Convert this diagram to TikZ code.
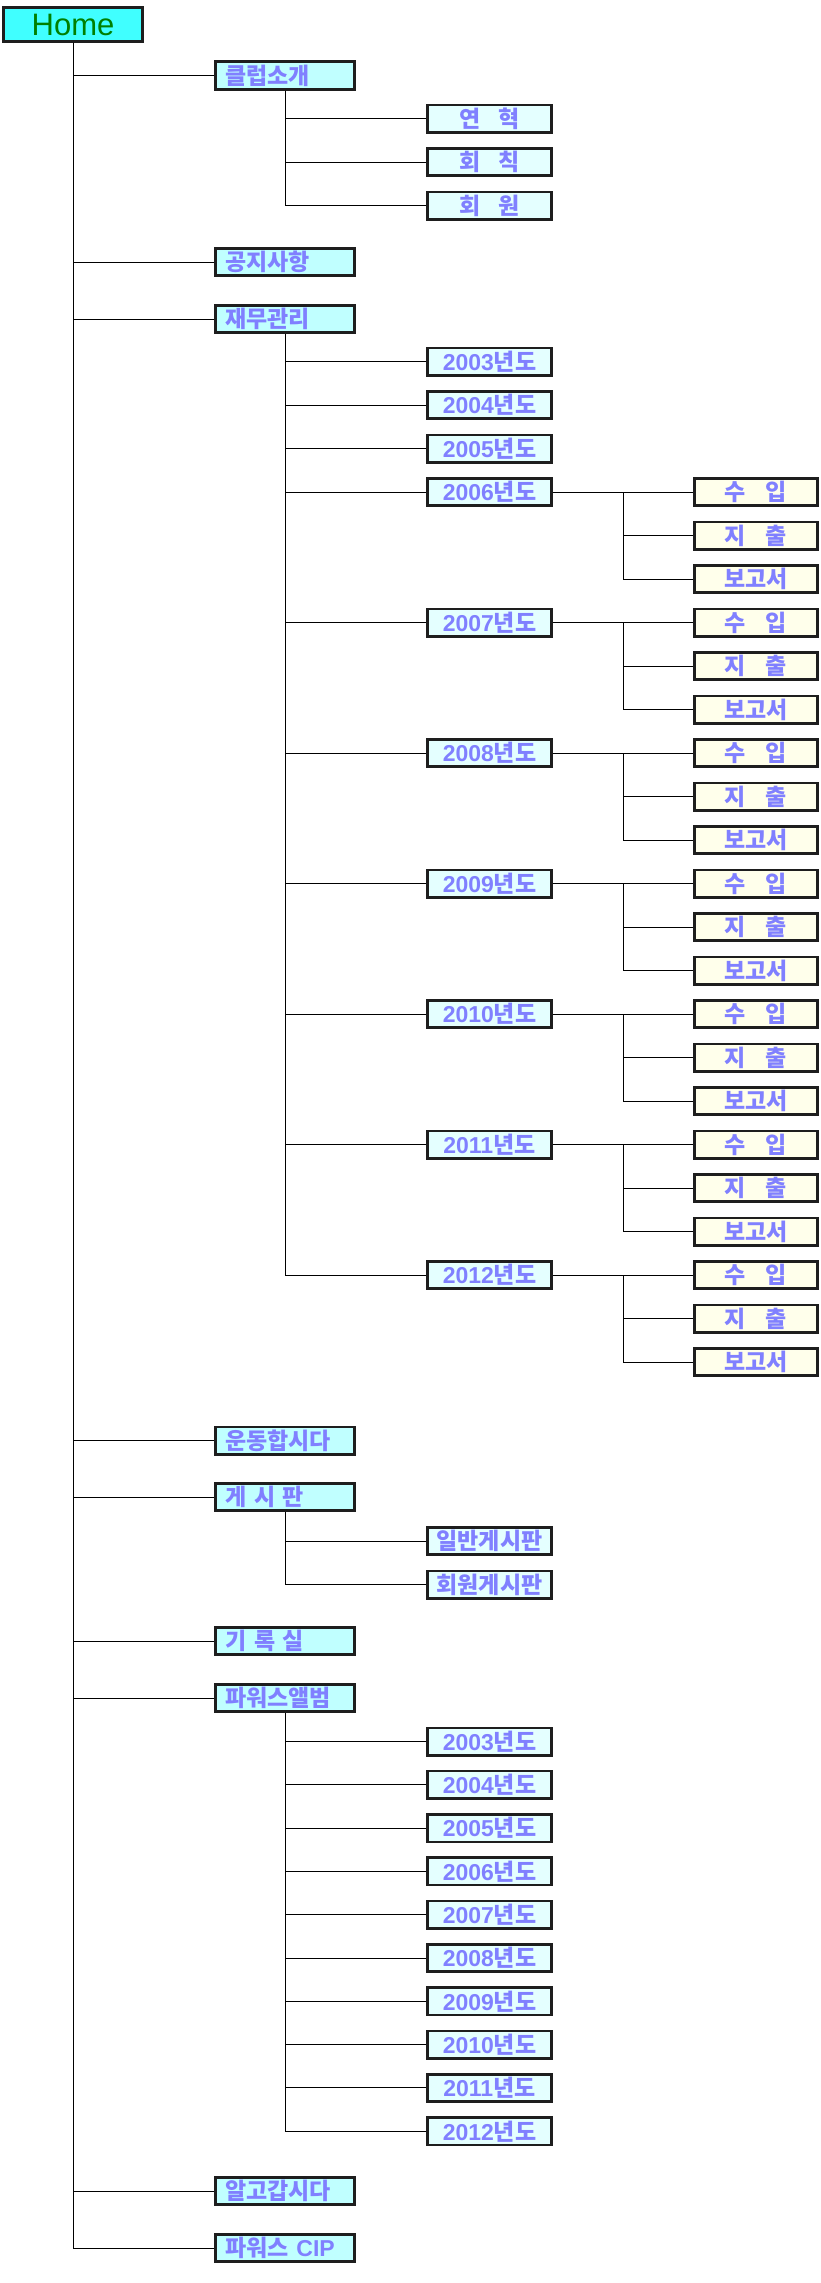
\documentclass[tikz,border=0pt]{standalone}
\usepackage{fontspec}
\setmainfont{Noto Sans CJK KR}
\newfontfamily\latinfont{Liberation Sans}
\newcommand\yrlab[1]{{\latinfont\bfseries #1}년도}
\definecolor{txt}{RGB}{128,128,255}
\definecolor{homefill}{RGB}{64,255,255}
\definecolor{homegreen}{RGB}{0,128,0}
\definecolor{lonefill}{RGB}{192,255,255}
\definecolor{ltwofill}{RGB}{228,255,255}
\definecolor{lthreefill}{RGB}{255,255,235}
\definecolor{edge}{RGB}{30,30,30}
\begin{document}
\begin{tikzpicture}[x=1pt,y=-1pt,
 box/.style={draw=edge, line width=2.6pt, minimum height=27.4pt, inner ysep=0pt, text=txt,
   font=\fontsize{23}{23}\selectfont\bfseries},
 lone/.style={box, fill=lonefill, text width=119.4pt, inner xsep=10pt, align=left},
 ltwo/.style={box, fill=ltwofill, minimum width=124.4pt, inner xsep=0pt},
 lthree/.style={box, fill=lthreefill, minimum width=123.4pt, inner xsep=0pt},
 homebox/.style={draw=edge, line width=2.6pt, fill=homefill, minimum width=139.4pt, minimum height=34.4pt,
   inner sep=0pt, text=homegreen, font=\latinfont\fontsize{31}{31}\selectfont},
 link/.style={draw=black, line width=1pt}]
\useasboundingbox (0,0) rectangle (820,2283);

% ---------- nodes ----------
\node[homebox] (home) at (73,24.5) {Home};

\node[lone] (club) at (285,75.5) {클럽소개};
\node[ltwo] (hist) at (489.5,118.5) {연\hspace{18pt}혁};
\node[ltwo] (rule) at (489.5,162) {회\hspace{18pt}칙};
\node[ltwo] (memb) at (489.5,205.5) {회\hspace{18pt}원};

\node[lone] (notice) at (285,262) {공지사항};
\node[lone] (fin) at (285,319) {재무관리};

\node[ltwo] (f2003) at (489.5,361.5) {\yrlab{2003}};
\node[ltwo] (f2004) at (489.5,405) {\yrlab{2004}};
\node[ltwo] (f2005) at (489.5,448.5) {\yrlab{2005}};

\foreach \yr [count=\k from 0] in {2006,2007,2008,2009,2010,2011,2012} {
  \pgfmathsetmacro\yy{492+130.5*\k}
  \node[ltwo] (f\yr) at (489.5,\yy) {\yrlab{\yr}};
  \node[lthree] (in\yr) at (756,\yy) {수\hspace{20pt}입};
  \node[lthree] (out\yr) at (756,\yy+43.5) {지\hspace{20pt}출};
  \node[lthree] (rep\yr) at (756,\yy+87) {보고서};
  \coordinate (j\yr) at (623,\yy);
}

\node[lone] (sport) at (285,1440.5) {운동합시다};
\node[lone] (board) at (285,1497) {게 시 판};
\node[ltwo] (gen) at (489.5,1541) {일반게시판};
\node[ltwo] (mbd) at (489.5,1584.5) {회원게시판};
\node[lone] (rec) at (285,1641) {기 록 실};
\node[lone] (album) at (285,1698) {파워스앨범};
\foreach \yr [count=\k from 0] in {2003,2004,2005,2006,2007,2008,2009,2010,2011,2012} {
  \pgfmathsetmacro\yy{1741.5+43.3*\k}
  \node[ltwo] (a\yr) at (489.5,\yy) {\yrlab{\yr}};
}
\node[lone] (know) at (285,2191) {알고갑시다};
\node[lone] (cip) at (285,2248) {파워스 {\latinfont\bfseries CIP}};

% ---------- connectors ----------
\foreach \c in {club,notice,fin,sport,board,rec,album,know,cip}
  \draw[link] (home.south) |- (\c.west);
\foreach \c in {hist,rule,memb}
  \draw[link] (club.south) |- (\c.west);
\foreach \c in {f2003,f2004,f2005,f2006,f2007,f2008,f2009,f2010,f2011,f2012}
  \draw[link] (fin.south) |- (\c.west);
\foreach \yr in {2006,2007,2008,2009,2010,2011,2012} {
  \draw[link] (f\yr.east) -- (in\yr.west);
  \draw[link] (j\yr) |- (out\yr.west);
  \draw[link] (j\yr) |- (rep\yr.west);
}
\foreach \c in {gen,mbd}
  \draw[link] (board.south) |- (\c.west);
\foreach \yr in {2003,2004,2005,2006,2007,2008,2009,2010,2011,2012}
  \draw[link] (album.south) |- (a\yr.west);
\end{tikzpicture}
\end{document}
